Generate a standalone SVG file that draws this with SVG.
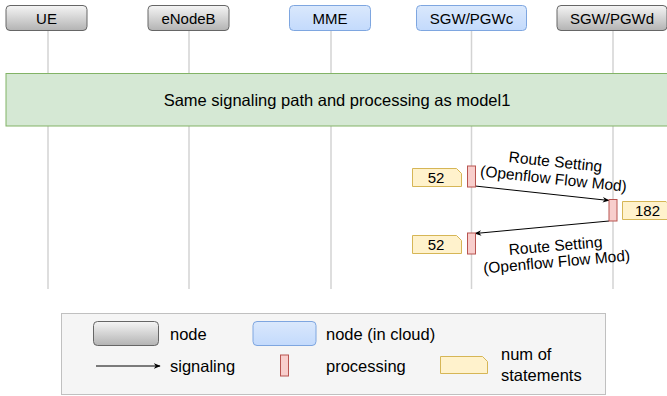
<svg xmlns="http://www.w3.org/2000/svg" width="667" height="396" viewBox="0 0 667 396">
  <defs>
    <linearGradient id="gGray" x1="0" y1="0" x2="0" y2="1">
      <stop offset="0" stop-color="#f5f5f5"/>
      <stop offset="1" stop-color="#b3b3b3"/>
    </linearGradient>
    <linearGradient id="gBlue" x1="0" y1="0" x2="0" y2="1">
      <stop offset="0" stop-color="#dae8fc"/>
      <stop offset="1" stop-color="#c3dafc"/>
    </linearGradient>
    <marker id="arr" viewBox="0 0 10 10" refX="9" refY="5" markerWidth="7" markerHeight="7" markerUnits="userSpaceOnUse" orient="auto">
      <path d="M0,1 L10,5 L0,9 L3,5 Z" fill="#000"/>
    </marker>
  </defs>
  <style>
    text { font-family: "Liberation Sans", Arial, sans-serif; font-size: 15px; fill: #000; }
    .node { fill: url(#gGray); stroke: #666; stroke-width: 1; }
    .cloud { fill: url(#gBlue); stroke: #7ea6e0; stroke-width: 1; }
    .life { stroke: #d3d3d3; stroke-width: 1.5; fill: none; }
    .proc { fill: #f8cecc; stroke: #b85450; stroke-width: 1; }
    .note { fill: #fff2cc; stroke: #d6b656; stroke-width: 1; }
    .sig { stroke: #000; stroke-width: 1; fill: none; marker-end: url(#arr); }
    .c { text-anchor: middle; }
    .lbl { font-size: 15.5px; }
    .leg { font-size: 16.5px; }
  </style>

  <rect width="667" height="396" fill="#fff"/>

  <!-- lifelines -->
  <g id="lifelines">
    <line class="life" x1="48" y1="31" x2="48" y2="289"/>
    <line class="life" x1="189" y1="31" x2="189" y2="289"/>
    <line class="life" x1="331" y1="31" x2="331" y2="289"/>
    <line class="life" x1="471.5" y1="31" x2="471.5" y2="289"/>
    <line class="life" x1="613" y1="31" x2="613" y2="289"/>
  </g>

  <!-- participants -->
  <g id="ue">
    <rect class="node" x="6" y="5.5" width="81" height="25" rx="4"/>
    <text class="c" x="46.5" y="23.5">UE</text>
  </g>
  <g id="enodeb">
    <rect class="node" x="148" y="5.5" width="81" height="25" rx="4"/>
    <text class="c" x="188.5" y="23.5">eNodeB</text>
  </g>
  <g id="mme">
    <rect class="cloud" x="289.5" y="5.5" width="81" height="25" rx="4"/>
    <text class="c" x="330" y="23.5">MME</text>
  </g>
  <g id="sgw-pgwc">
    <rect class="cloud" x="416.5" y="5.5" width="110" height="25" rx="4"/>
    <text class="c" x="471.5" y="23.5">SGW/PGWc</text>
  </g>
  <g id="sgw-pgwd">
    <rect class="node" x="557" y="5.5" width="110" height="25" rx="4"/>
    <text class="c" x="612" y="23.5">SGW/PGWd</text>
  </g>

  <!-- shared section -->
  <g id="banner">
    <rect x="6" y="73.5" width="670" height="52.5" fill="#d5e8d4" stroke="#82b366" stroke-width="1"/>
    <text class="c" x="337" y="105.5" style="font-size:16.5px">Same signaling path and processing as model1</text>
  </g>

  <!-- connectors -->
  <g id="connectors">
    <line class="sig" x1="475" y1="186" x2="609" y2="200.5"/>
    <line class="sig" x1="609" y1="221" x2="475" y2="233.5"/>
  </g>

  <g id="labels">
    <text class="c lbl" transform="translate(555,167) rotate(6)">Route Setting</text>
    <text class="c lbl" transform="translate(553,184) rotate(6)">(Openflow Flow Mod)</text>
    <text class="c lbl" transform="translate(556,251) rotate(-5)">Route Setting</text>
    <text class="c lbl" transform="translate(557,267) rotate(-5)">(Openflow Flow Mod)</text>
  </g>

  <!-- processing and statement counts -->
  <g id="proc1">
    <rect class="proc" x="467.5" y="166" width="8" height="21"/>
  </g>
  <g id="note1">
    <path class="note" d="M412.5,168.5 H456.5 L461.5,173.5 V186.5 H412.5 Z"/>
    <text class="c" x="436" y="183">52</text>
  </g>
  <g id="proc2">
    <rect class="proc" x="609" y="199.5" width="8" height="21.5"/>
  </g>
  <g id="note2">
    <path class="note" d="M622.5,201.5 H666 L671,206.5 V219.5 H622.5 Z"/>
    <text class="c" x="647.5" y="216">182</text>
  </g>
  <g id="proc3">
    <rect class="proc" x="467.5" y="233" width="8" height="21"/>
  </g>
  <g id="note3">
    <path class="note" d="M412.5,235.5 H456.5 L461.5,240.5 V253.5 H412.5 Z"/>
    <text class="c" x="436" y="250">52</text>
  </g>

  <!-- legend -->
  <g id="legend">
    <rect x="61.5" y="313.5" width="544" height="81" fill="#f5f5f5" stroke="#c0c0c0" stroke-width="1"/>
    <rect class="node" x="93.5" y="321.5" width="65" height="24" rx="4"/>
    <text class="leg" x="170" y="340">node</text>
    <rect class="cloud" x="253" y="321.5" width="63" height="24" rx="4"/>
    <text class="leg" x="326" y="340">node (in cloud)</text>
    <line class="sig" x1="96" y1="366" x2="160" y2="366"/>
    <text class="leg" x="170" y="371.5">signaling</text>
    <rect class="proc" x="280.5" y="355" width="8" height="21"/>
    <text class="leg" x="326" y="371.5">processing</text>
    <path class="note" d="M440.5,356.5 H482.5 L487.5,361.5 V373.5 H440.5 Z"/>
    <text class="leg" x="501" y="360">num of</text>
    <text class="leg" x="501" y="381">statements</text>
  </g>
</svg>
